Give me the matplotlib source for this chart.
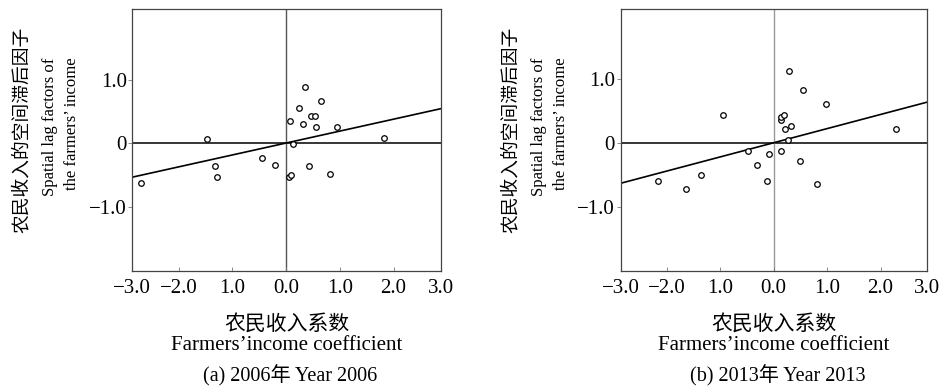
import matplotlib
matplotlib.use("Agg")
import matplotlib.pyplot as plt

plt.rcParams['font.family'] = ['Liberation Serif', 'Noto Sans CJK SC', 'DejaVu Sans']
plt.rcParams['axes.unicode_minus'] = True

# 2006 - Moran scatter points (income coefficient, spatial lag)
x_2006 = [-2.70, -1.47, -1.33, -1.28, -0.45, -0.21, 0.06, 0.10, 0.07, 0.13, 0.25,
          0.32, 0.35, 0.47, 0.53, 0.55, 0.42, 0.66, 0.82, 0.94, 1.83]
y_2006 = [-0.63, 0.07, -0.36, -0.53, -0.23, -0.35, -0.54, -0.51, 0.35, -0.02, 0.55,
          0.30, 0.88, 0.42, 0.43, 0.26, -0.36, 0.66, -0.48, 0.25, 0.08]
slope_2006 = 0.188

# 2013
x_2013 = [-2.17, -1.63, -1.35, -0.95, -0.47, -0.31, -0.12, -0.09, 0.13, 0.13, 0.13,
          0.19, 0.22, 0.27, 0.32, 0.29, 0.54, 0.50, 0.81, 0.97, 2.29]
y_2013 = [-0.60, -0.72, -0.50, 0.44, -0.13, -0.35, -0.60, -0.17, -0.13, 0.35, 0.40,
          0.44, 0.22, 0.05, 0.27, 1.12, 0.83, -0.29, -0.65, 0.61, 0.22]
slope_2013 = 0.222

xtick_labels = ['\u22123.0', '\u22122.0', '1.0', '0.0', '1.0', '2.0', '3.0']
ytick_labels = ['\u22121.0', '0', '1.0']

panels = [
    (x_2006, y_2006, slope_2006, '(a) 2006年 Year 2006', [0.1394, 0.3087, 0.325, 0.668],
     (-2.86, 2.878), (-2.016, 2.11), '#555555'),
    (x_2013, y_2013, slope_2013, '(b) 2013年 Year 2013', [0.654, 0.3087, 0.3224, 0.668],
     (-2.86, 2.86), (-2.01, 2.095), '#999999'),
]

fig = plt.figure(figsize=(9.49, 3.92), dpi=100)

for xs, ys, slope, cap, pos, xl, yl, vcol in panels:
    ax = fig.add_axes(pos)
    ax.set_xlim(xl)
    ax.set_ylim(yl)
    ax.axhline(0, color='black', lw=1.1, zorder=1)
    ax.axvline(0, color=vcol, lw=1.0, zorder=1)
    ax.plot([xl[0], xl[1]], [slope * xl[0], slope * xl[1]], color='black', lw=1.2, zorder=2)
    ax.scatter(xs, ys, s=16, facecolors='white', edgecolors='black', linewidths=0.9, zorder=3)

    ax.set_xticks([xl[0], -2, -1, 0, 1, 2, xl[1]])
    ax.set_xticklabels(xtick_labels, fontsize=15)
    ax.set_yticks([-1, 0, 1])
    ax.set_yticklabels(ytick_labels, fontsize=15)
    ax.tick_params(axis='x', direction='in', length=3, width=0.6, pad=6, colors='#777777',
                   labelcolor='black')
    ax.tick_params(axis='y', direction='out', length=3, width=0.6, pad=1, colors='#777777',
                   labelcolor='black')
    for s in ax.spines.values():
        s.set_color('#444444')
        s.set_linewidth(0.9)

    # axis titles, chinese + english
    cx = pos[0] + pos[2] / 2
    fig.text(cx, 1 - 325 / 392, '农民收入系数', ha='center', va='center', fontsize=15)
    fig.text(cx, 1 - 345 / 392, 'Farmers\u2019income coefficient', ha='center', va='center',
             fontsize=15)
    fig.text(cx + 0.004, 1 - 376 / 392, cap, ha='center', va='center', fontsize=14.5)

    lx = pos[0] * 949
    fig.text((lx - 110) / 949, 1 - 130 / 392, '农民收入的空间滞后因子', rotation=90,
             ha='center', va='center', fontsize=13.5)
    fig.text((lx - 82) / 949, 1 - 127 / 392, 'Spatial lag factors of', rotation=90,
             ha='center', va='center', fontsize=12)
    fig.text((lx - 60) / 949, 1 - 124 / 392, 'the farmers\u2019 income', rotation=90,
             ha='center', va='center', fontsize=12)

fig.savefig('out.png', dpi=100)
